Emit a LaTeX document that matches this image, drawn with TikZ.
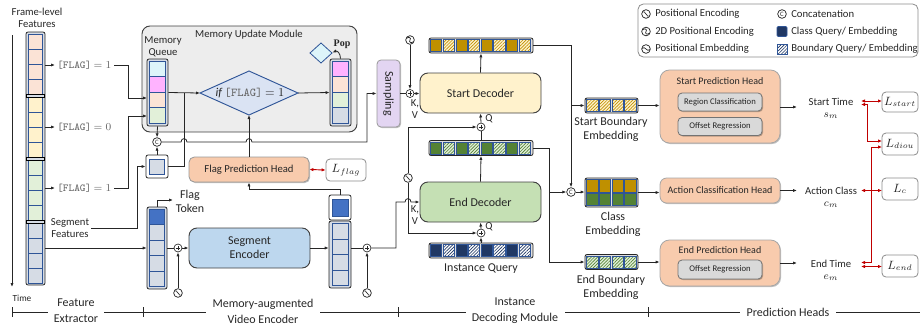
\documentclass[tikz,border=0pt]{standalone}
\usepackage{fontspec}
\setmainfont{Carlito}
\newfontfamily\popfont{Liberation Serif}
\usetikzlibrary{arrows.meta,patterns.meta,shadows}
\definecolor{cellb}{HTML}{2F5597}
\definecolor{colbg}{HTML}{D6DCE5}
\definecolor{cpink}{HTML}{FBE3D6}
\definecolor{cyel}{HTML}{FFF2CC}
\definecolor{cgrn}{HTML}{E2F0D9}
\definecolor{cgb}{HTML}{D6DCE5}
\definecolor{ccyan}{HTML}{DDF5FA}
\definecolor{cmag}{HTML}{FFB3FF}
\definecolor{memgray}{HTML}{EDEDED}
\definecolor{diafill}{HTML}{DAE3F3}
\definecolor{headfill}{HTML}{F8CBAD}
\definecolor{encfill}{HTML}{BDD7EE}
\definecolor{sdfill}{HTML}{FFF2CC}
\definecolor{edfill}{HTML}{C5E0B4}
\definecolor{sampfill}{HTML}{E3D5F2}
\definecolor{gold}{HTML}{BF9000}
\definecolor{dgreen}{HTML}{548235}
\definecolor{navy}{HTML}{203864}
\definecolor{flagblue}{HTML}{4472C4}
\definecolor{lossred}{HTML}{C00000}
\definecolor{innergray}{HTML}{D9D9D9}
\newcommand{\solidcell}[5]{\filldraw[fill=#5,draw=cellb,line width=0.5pt] (#1,#2) rectangle ++(#3,#4);}
\newcommand{\hatchcell}[6]{\fill[#5] (#1,#2) rectangle ++(#3,#4);
  \fill[pattern={Lines[angle=45,distance=1.7pt,line width=0.5pt]},pattern color=#6] (#1,#2) rectangle ++(#3,#4);
  \draw[cellb,line width=0.5pt] (#1,#2) rectangle ++(#3,#4);}
\newcommand{\flagtxt}[1]{\textcolor{black!60}{\texttt{[FLAG]}~$=#1$}}
\tikzset{
  ln/.style={line width=0.6pt, draw=black!85},
  arr/.style={ln, -{Latex[length=3pt,width=2.4pt]}},
  rarr/.style={line width=0.7pt, draw=lossred, {Latex[length=3pt,width=2.6pt]}-{Latex[length=3pt,width=2.6pt]}},
  sz/.style 2 args={minimum width={(#1)*0.75pt}, minimum height={(#2)*0.75pt}},
  shd/.style={drop shadow={shadow xshift=0.8pt,shadow yshift=-0.8pt,opacity=0.25,fill=black}},
  t65/.style={font=\fontsize{6.5}{7.5}\selectfont},
  t7/.style={font=\fontsize{7}{8}\selectfont},
  t75/.style={font=\fontsize{7.5}{9}\selectfont},
  t8/.style={font=\fontsize{8}{9}\selectfont},
  t9/.style={font=\fontsize{9}{10.5}\selectfont},
  tb/.style={font=\fontsize{9}{12}\selectfont},
  lossbox/.style={draw=black!45, line width=0.6pt, rounded corners=3pt, fill=white, font=\fontsize{9}{10}\selectfont},
  colbox/.style={draw=black!85, fill=colbg, rounded corners=1.5pt, line width=0.6pt},
  rowbox/.style={draw=black!85, fill=gray!25, rounded corners=1.5pt, line width=0.6pt},
  plusc/.style={circle, draw=black!85, fill=white, line width=0.5pt, minimum size=6pt, inner sep=0pt,
    path picture={\draw[line width=0.45pt, shift={(path picture bounding box.center)}] (-1.8pt,0) -- (1.8pt,0) (0,-1.8pt) -- (0,1.8pt);}},
  pec/.style={circle, draw=black!85, fill=white, line width=0.55pt, minimum size=6.5pt, inner sep=0pt,
    path picture={\draw[line width=0.5pt, shift={(path picture bounding box.center)}] (-2.6pt,1.6pt) .. controls (-0.8pt,3.2pt) and (0.8pt,-3.2pt) .. (2.6pt,-1.6pt);}},
  pe2c/.style={circle, draw=black!85, fill=white, line width=0.55pt, minimum size=6.5pt, inner sep=0pt,
    path picture={\draw[line width=0.5pt, shift={(path picture bounding box.center)}] (-2.6pt,1.2pt) .. controls (-1pt,3pt) and (1.2pt,1.4pt) .. (0,0) .. controls (-1.2pt,-1.4pt) and (1pt,-3pt) .. (2.6pt,-1.2pt);}},
  pembc/.style={circle, draw=black!85, fill=white, line width=0.55pt, minimum size=6.5pt, inner sep=0pt,
    path picture={\draw[line width=0.5pt, shift={(path picture bounding box.center)}] (-2.8pt,0.4pt) .. controls (-1pt,3pt) and (1pt,-3pt) .. (2.8pt,-0.4pt);}},
  concatc/.style={circle, draw=black!85, fill=white, line width=0.55pt, minimum size=6.5pt, inner sep=0pt, font=\fontsize{5}{5}\selectfont}
}
\begin{document}
\begin{tikzpicture}[x=0.75pt,y=-0.75pt, every node/.style={inner sep=0pt, align=center, text=black!85}]
\useasboundingbox (0,0) rectangle (920,329);

% ---------------- Frame-level features ----------------
\node[t8] (flf) at (37,17.5) {Frame-level\\Features};
\coordinate (tstart) at (12,35);
\coordinate (tend) at (12,287);
\draw[arr] (tstart) -- (tend);
\node[t7] (timel) at (22,298) {Time};
\filldraw[colbox] (26,32) rectangle (45,285);
\foreach \c/\y in {cpink/34, cyel/97, cgrn/160, cgb/223}{
  \foreach \k in {0,...,3}{
    \filldraw[fill=\c, draw=cellb, line width=0.6pt] (28.5,\y+\k*15) rectangle ++(14,15);
  }
}
\foreach \y in {94,157,220}{
  \filldraw[fill=colbg, draw=black, line width=0.45pt] (26.3,\y) rectangle (44.7,\y+3);
}
\node[t8, anchor=west] (f1) at (57,65) {\flagtxt{1}};
\node[t8, anchor=west] (f2) at (57,127) {\flagtxt{0}};
\node[t8, anchor=west] (f3) at (57,188) {\flagtxt{1}};
\draw[arr] (45,65) -- ([xshift=-1.5pt]f1.west);
\draw[arr] (45,127) -- ([xshift=-1.5pt]f2.west);
\draw[arr] (45,188) -- ([xshift=-1.5pt]f3.west);
\node[t8] (segf) at (70,228) {Segment\\Features};

% ---------------- Memory update module ----------------
\node[draw=black!75, fill=memgray, rounded corners=6pt, line width=0.7pt, sz={215}{106}] (mum) at (249.5,79) {};
\node[t8] (mumt) at (249,35) {Memory Update Module};
\node[t8] (mql) at (163,46.5) {Memory\\Queue};
\node[colbox, sz={21}{67}] (mq) at (157.5,92.5) {};
\foreach \c [count=\k from 0] in {ccyan,cmag,cpink,cgrn}{
  \filldraw[fill=\c, draw=cellb, line width=0.6pt] (149.5,61+\k*15.5) rectangle ++(16,15.5);
}
\node[colbox, sz={21}{67}] (oq) at (340.5,92.5) {};
\foreach \c [count=\k from 0] in {cmag,cpink,cgrn,cgb}{
  \filldraw[fill=\c, draw=cellb, line width=0.6pt] (332.5,61+\k*15.5) rectangle ++(16,15.5);
}
\filldraw[fill=diafill, draw=cellb, line width=0.7pt] (200,93) -- (249,71) -- (298,93) -- (249,115) -- cycle;
\coordinate (diaW) at (200,93);
\coordinate (diaE) at (298,93);
\coordinate (diaS) at (249,115);
\node[font=\fontsize{9}{10}\selectfont] (diat) at (250,93) {$\mathit{if}$\ \textcolor{black!60}{\texttt{[FLAG]}}\ $=1$};
\filldraw[fill=ccyan, draw=cellb, line width=0.6pt] (310,53) -- (321,43) -- (332,53) -- (321,63) -- cycle;
\coordinate (popd) at (332.5,52.5);
\node[font=\fontsize{7.5}{8}\popfont\bfseries] (popl) at (342,44) {Pop};
\draw[arr] (oq.north) .. controls (340.5,53) and (337,50.5) .. (popd);

% inputs to memory queue
\draw[arr] ([xshift=2pt]f1.east) -| (128,98) -- (147,98);
\draw[arr] ([xshift=2pt]f3.east) -| (128,116) -- (147,116);

% small box and concat
\node[draw=black!85, fill=white, rounded corners=1.5pt, line width=0.6pt, sz={22}{23}] (sbox) at (157,166.5) {};
\filldraw[fill=cgb, draw=cellb, line width=0.6pt] (149.5,159) rectangle (164.5,174);
\node[concatc] (cc) at (157,142) {C};
\draw[arr] (mq.south) -- (cc.north);
\draw[arr] (sbox.north) -- (cc.south);
\draw[arr] ([xshift=1.5pt]segf.east) -| (137,166.5) -- (sbox.west);
\draw[ln] (sbox.east) -- (184,166.5) -- (184,93);
\draw[arr] (mq.east) -- (diaW);
\draw[arr] (diaE) -- (oq.west);

% flag prediction head
\node[draw=black!40, fill=headfill, rounded corners=4pt, line width=0.6pt, sz={120}{25}, t8, shd] (fph) at (249,169.5) {Flag Prediction Head};
\node[lossbox, sz={40}{22}] (lflag) at (346,170) {$L_{flag}$};
\draw[rarr] (fph.east) -- (lflag.west);
\draw[arr] (fph.north) -- (diaS);

% sampling
\node[draw=black!40, fill=sampfill, rounded corners=3pt, line width=0.6pt, sz={23}{67}, shd] (samp) at (388.5,93.5) {};
\node[t9, rotate=-90] (sampt) at (samp.center) {Sampling};
\draw[arr] (cc.east) -- (181,142) .. controls (181,137.5) and (187,137.5) .. (187,142) -- (246,142) .. controls (246,137.5) and (252,137.5) .. (252,142) -- (367,142) -- (367,93.5) -- (samp.west);

% ---------------- Memory-augmented video encoder ----------------
\node[sz={20}{82}] (tok) at (157,248) {};
\filldraw[colbox] (147,207) rectangle (167,289);
\filldraw[fill=flagblue, draw=cellb, line width=0.6pt] (149.5,209) rectangle ++(15,15.5);
\foreach \k in {1,...,4}{
  \filldraw[fill=cgb, draw=cellb, line width=0.6pt] (149.5,209+\k*15.5) rectangle ++(15,15.5);
}
\node[t9] (flagt) at (190,201) {Flag\\Token};
\draw[arr] (tok.north) |- (173,200);
\draw[arr] (45,248) -- (tok.west);
\node[plusc] (p1) at (178,248) {};
\node[pec] (pe1) at (178,293) {};
\draw[ln] (tok.east) -- (p1.west);
\draw[arr] (pe1.north) -- (p1.south);
\node[draw=black!75, fill=encfill, rounded corners=6pt, line width=0.7pt, sz={121}{40}, t9] (senc) at (249.5,248) {Segment\\Encoder};
\draw[arr] (p1.east) -- (senc.west);
\node[sz={22}{67}] (ocol) at (340,254.5) {};
\filldraw[colbox] (329,221) rectangle (351,288);
\foreach \k in {0,...,3}{
  \filldraw[fill=cgb, draw=cellb, line width=0.6pt] (332,223.5+\k*15.5) rectangle ++(16,15.5);
}
\node[draw=black!85, fill=white, rounded corners=1.5pt, line width=0.6pt, sz={22}{25}] (oflag) at (340,207.5) {};
\filldraw[fill=flagblue, draw=cellb, line width=0.6pt] (332,199) rectangle (348,216);
\draw[arr] (senc.east) -- (ocol.west |- senc.east);
\draw[arr] (oflag.north) -- (340,189) -| (fph.south);
\node[plusc] (p2) at (367,248) {};
\node[pec] (pe2) at (367,293) {};
\draw[ln] (351,248) -- (p2.west);
\draw[arr] (pe2.north) -- (p2.south);

% ---------------- Instance decoding module ----------------
\node[draw=black!75, fill=sdfill, rounded corners=6pt, line width=0.7pt, sz={121}{40}, t9] (sdec) at (480.5,93) {Start Decoder};
\node[draw=black!75, fill=edfill, rounded corners=6pt, line width=0.7pt, sz={121}{40}, t9] (edec) at (480.5,202) {End Decoder};
\node[plusc] (p3) at (410,93.5) {};
\node[pe2c] (pe2d) at (410,40) {};
\draw[ln] (samp.east) -- (p3.west);
\draw[arr] (pe2d.south) -- (p3.north);
\draw[arr] (p3.east) -- (sdec.west |- p3.east);
\node[t8] (kv1) at (415,109.5) {K,\\V};
\node[t8] (kv2) at (415,215) {K,\\V};
\node[plusc] (pq1) at (481,127) {};
\node[plusc] (pq2) at (481,233) {};
\node[t8] (q1) at (489,118.5) {Q};
\node[t8] (q2) at (489,227) {Q};
\node[pec] (pe3) at (408,178) {};
\draw[arr] (pe3.north) -- (408,127) -- (pq1.west);
\draw[arr] (pe3.south) -- (408,233) -- (pq2.west);
\draw[arr] (p2.east) -- (396,248) -- (396,202) -- (405,202) .. controls (405,197.5) and (411,197.5) .. (411,202) -- (edec.west);
\draw[arr] (pq1.north) -- (sdec.south);
\draw[arr] (pq2.north) -- (edec.south);

% query / embedding rows
\node[rowbox, sz={104}{15}] (srow) at (481,45.5) {};
\foreach \i in {0,...,7}{
  \pgfmathsetmacro{\cx}{430.6+\i*12.63}
  \ifodd\i\relax \hatchcell{\cx}{39.5}{11.2}{12}{cyel}{gold}\else \solidcell{\cx}{39.5}{11.2}{12}{gold}\fi
}
\node[rowbox, sz={104}{15}] (grow) at (481,148) {};
\foreach \i in {0,...,7}{
  \pgfmathsetmacro{\cx}{430.6+\i*12.63}
  \ifodd\i\relax \hatchcell{\cx}{142}{11.2}{12}{cgrn}{dgreen}\else \solidcell{\cx}{142}{11.2}{12}{dgreen}\fi
}
\node[rowbox, sz={104}{15}] (iq) at (481,250.5) {};
\foreach \i in {0,...,7}{
  \pgfmathsetmacro{\cx}{430.6+\i*12.63}
  \ifodd\i\relax \hatchcell{\cx}{244.5}{11.2}{12}{white}{navy}\else \solidcell{\cx}{244.5}{11.2}{12}{navy}\fi
}
\node[t9] (iql) at (481,269) {Instance Query};
\draw[arr] (sdec.north) -- (srow.south);
\draw[arr] (edec.north) -- (grow.south);
\draw[ln] (grow.north) -- (pq1.south);
\draw[arr] (iq.north) -- (pq2.south);

% ---------------- embeddings ----------------
\node[concatc] (cc2) at (571,192) {C};
\node[rowbox, sz={53}{15}] (sbr) at (611.5,105.5) {};
\foreach \i in {0,...,3}{
  \pgfmathsetmacro{\cx}{586.6+\i*12.7}
  \hatchcell{\cx}{99.5}{11.3}{12}{cyel}{gold}
}
\node[rowbox, sz={53}{29}] (cemb) at (611.5,192.5) {};
\foreach \i in {0,...,3}{
  \pgfmathsetmacro{\cx}{586.6+\i*12.7}
  \solidcell{\cx}{179.5}{11.3}{12.5}{gold}
  \solidcell{\cx}{193}{11.3}{12.5}{dgreen}
}
\node[rowbox, sz={53}{15}] (ebr) at (611.5,262) {};
\foreach \i in {0,...,3}{
  \pgfmathsetmacro{\cx}{586.6+\i*12.7}
  \hatchcell{\cx}{256}{11.3}{12}{cgrn}{dgreen}
}
\node[t9] (sbrl) at (611,129) {Start Boundary\\Embedding};
\node[t9] (ceml) at (613,224) {Class\\Embedding};
\node[t9] (ebrl) at (611,287) {End Boundary\\Embedding};
\draw[arr] (srow.east) -- (571,45.5) -- (cc2.north);
\draw[arr] (571,105.5) -- (sbr.west);
\draw[ln] (grow.east) -- (549,148) -- (549,262);
\draw[arr] (549,262) -- (ebr.west);
\draw[arr] (549,192) -- (cc2.west);
\draw[arr] (cc2.east) -- (cemb.west |- cc2.east);

% ---------------- prediction heads ----------------
\node[draw=black!35, fill=headfill, rounded corners=7pt, line width=0.6pt, sz={120}{73}, shd] (sph) at (720,106.5) {};
\node[t75] (spht) at (720,81) {Start Prediction Head};
\node[draw=black!55, fill=innergray, rounded corners=3pt, line width=0.6pt, sz={84}{18}, t65, shd] (rc) at (720,102) {Region Classification};
\node[draw=black!55, fill=innergray, rounded corners=3pt, line width=0.6pt, sz={84}{18}, t65, shd] (or1) at (720,126.5) {Offset Regression};
\node[draw=black!35, fill=headfill, rounded corners=5pt, line width=0.6pt, sz={120}{25}, t75, shd] (ach) at (720,190.5) {Action Classification Head};
\node[draw=black!35, fill=headfill, rounded corners=7pt, line width=0.6pt, sz={120}{46}, shd] (eph) at (720,263) {};
\node[t75] (epht) at (720,250) {End Prediction Head};
\node[draw=black!55, fill=innergray, rounded corners=3pt, line width=0.6pt, sz={84}{19}, t65, shd] (or2) at (720,269.5) {Offset Regression};
\draw[arr] (sbr.east) -- (sph.west |- sbr.east);
\draw[arr] (cemb.east) -- (ach.west |- cemb.east);
\draw[arr] (ebr.east) -- (eph.west |- ebr.east);

\node[t8] (stime) at (831,108) {Start Time\\$s_m$};
\node[t8] (aclass) at (831,197) {Action Class\\$c_m$};
\node[t8] (etime) at (831,270) {End Time\\$e_m$};
\draw[arr] (780,107) -- (797,107);
\draw[arr] (ach.east) -- (797,190.5);
\draw[arr] (eph.east) -- (797,263);

\node[lossbox, sz={36}{20}] (lstart) at (900,102) {$L_{start}$};
\node[lossbox, sz={36}{22}] (ldiou) at (900,144) {$L_{diou}$};
\node[lossbox, sz={36}{22}] (lc) at (900,189) {$L_{c}$};
\node[lossbox, sz={36}{22}] (lend) at (900,266) {$L_{end}$};
\draw[rarr] (861,101) -- (882,101);
\draw[rarr] (861,104.5) -- (867.5,104.5) -- (867.5,141) -- (882,141);
\draw[rarr] (861,190.5) -- (882,190.5);
\draw[rarr] (861,266.5) -- (882,266.5);
\draw[rarr] (861,262.5) -- (871,262.5) -- (871,147) -- (882,147);

% ---------------- legend ----------------
\node[draw=black!45, rounded corners=4pt, line width=0.6pt, sz={280}{53}] (leg) at (778,30.5) {};
\node[pec] (lg1) at (646,14) {};
\node[pe2c] (lg2) at (646,31.5) {};
\node[pembc] (lg3) at (646,49) {};
\node[t8, anchor=west] (lt1) at (655,14) {Positional Encoding};
\node[t8, anchor=west] (lt2) at (655,31.5) {2D Positional Encoding};
\node[t8, anchor=west] (lt3) at (655,49) {Positional Embedding};
\node[concatc] (lg4) at (782,14) {C};
\filldraw[fill=navy, draw=cellb, line width=0.5pt, rounded corners=0.8pt] (777,26.5) rectangle (787,36.5);
\hatchcell{777}{44}{10}{10}{white}{navy}
\node[t8, anchor=west] (lt4) at (791,14) {Concatenation};
\node[t8, anchor=west] (lt5) at (791,31.5) {Class Query/ Embedding};
\node[t8, anchor=west] (lt6) at (791,49) {Boundary Query/ Embedding};

% ---------------- bottom section labels ----------------
\draw[ln] (12,307) -- (12,317);
\draw[ln] (12,312) -- (48,312);
\node[tb] (b1) at (76,311) {Feature\\Extractor};
\draw[ln] (104,312) -- (206,312);
\draw[ln] (143,307) -- (143,317);
\node[tb] (b2) at (263,311) {Memory-augmented\\Video Encoder};
\draw[ln] (320,312) -- (466,312);
\draw[ln] (398,307) -- (398,317);
\node[tb] (b3) at (515,311) {Instance\\Decoding Module};
\draw[ln] (565,312) -- (740,312);
\draw[ln] (648,307) -- (648,317);
\node[tb] (b4) at (788,312) {Prediction Heads};
\draw[ln] (836,312) -- (920,312);
\end{tikzpicture}
\end{document}
